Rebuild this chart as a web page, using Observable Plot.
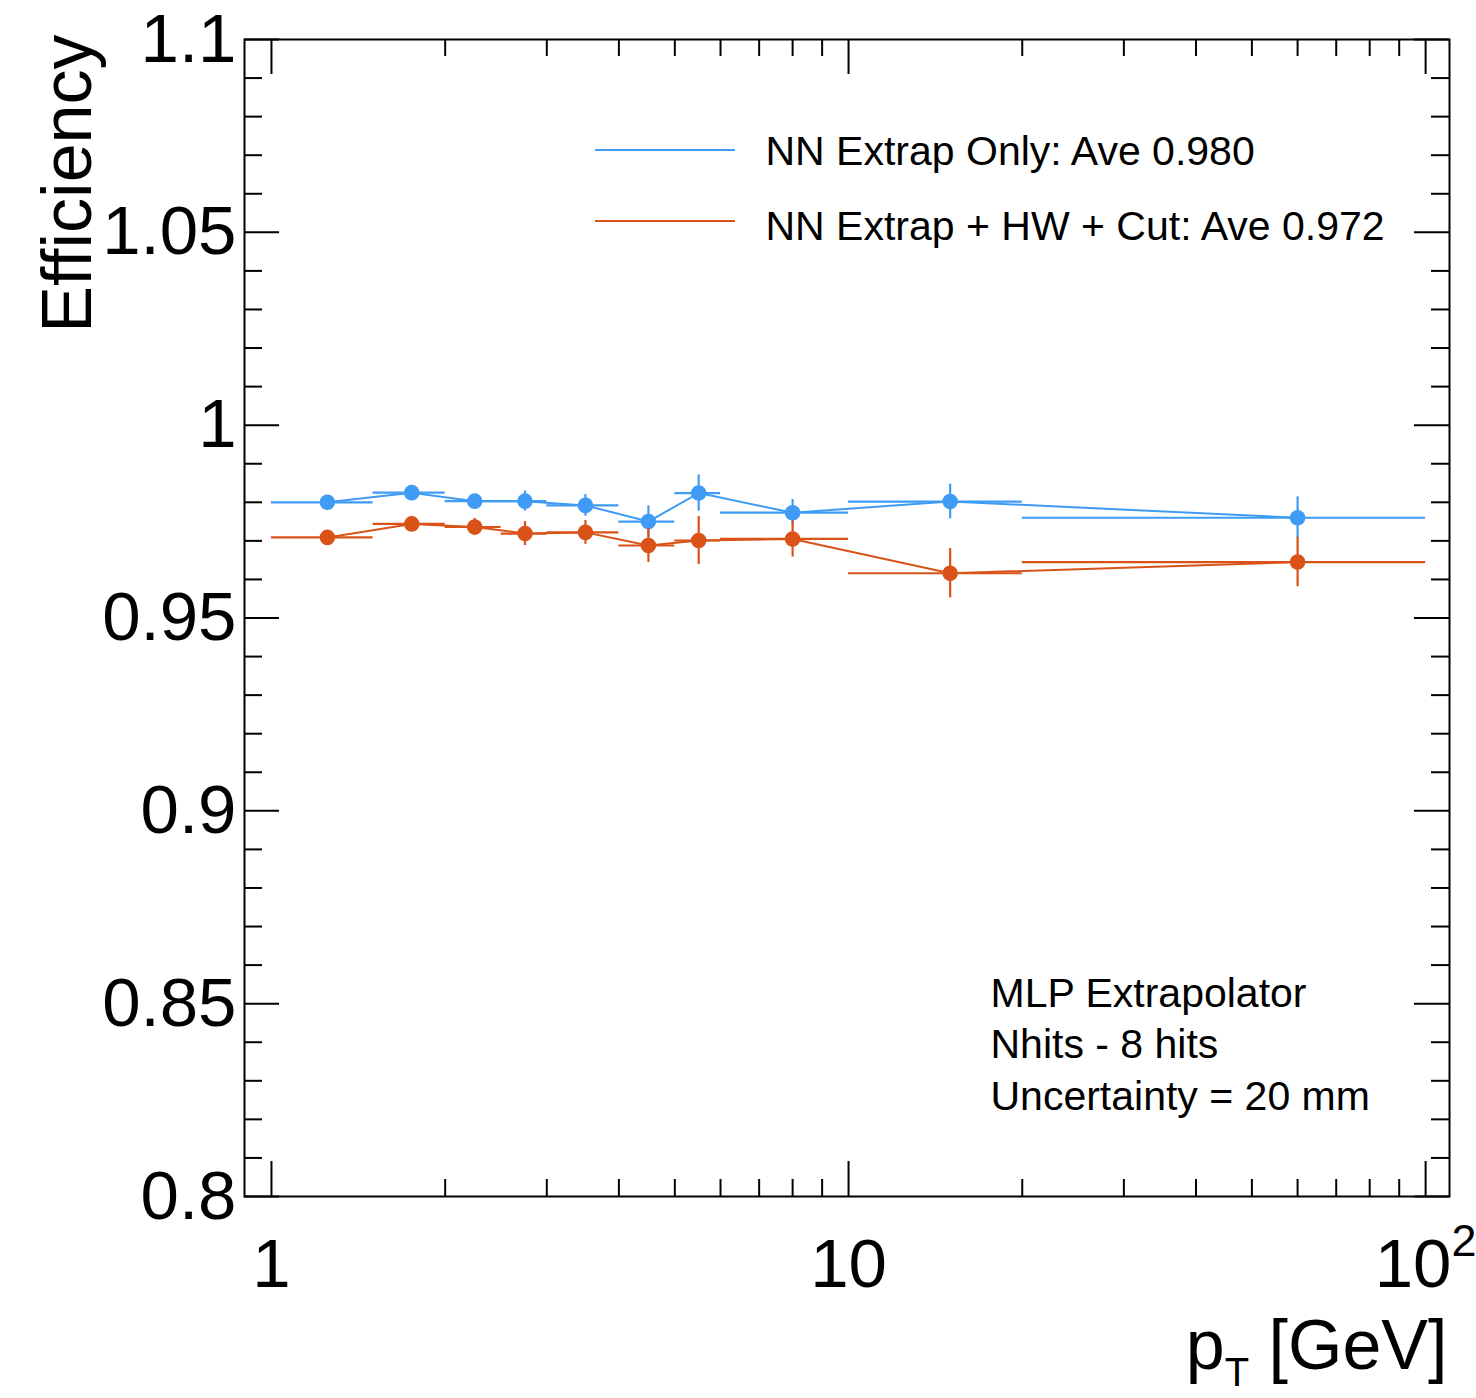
<!DOCTYPE html>
<html>
<head>
<meta charset="utf-8">
<script src="https://cdn.jsdelivr.net/npm/d3@7"></script>
<script src="https://cdn.jsdelivr.net/npm/@observablehq/plot@0.6"></script>
<style>
  html, body { margin: 0; padding: 0; background: #fff; }
  #chart { width: 1476px; height: 1398px; }
</style>
</head>
<body>
<div id="chart"></div>
<script>
// ---- data ----
const ptCenter = [1.25, 1.75, 2.25, 2.75, 3.5, 4.5, 5.5, 8, 15, 60];
const binLow   = [1, 1.5, 2, 2.5, 3, 4, 5, 6, 10, 20];
const binHigh  = [1.5, 2, 2.5, 3, 4, 5, 6, 10, 20, 100];

const effNN = [0.9800, 0.9825, 0.9803, 0.9803, 0.9792, 0.9750, 0.9824, 0.9773, 0.9802, 0.9760];
const errNN = [0.0012, 0.0012, 0.0014, 0.0026, 0.0028, 0.0041, 0.0047, 0.0034, 0.0045, 0.0054];

const effHW = [0.9709, 0.9744, 0.9736, 0.9719, 0.9722, 0.9688, 0.9701, 0.9705, 0.9616, 0.9645];
const errHW = [0.0015, 0.0015, 0.0022, 0.0031, 0.0031, 0.0044, 0.0062, 0.0047, 0.0064, 0.0064];

const seriesNames = ["NN Extrap Only: Ave 0.980", "NN Extrap + HW + Cut: Ave 0.972"];
const seriesColors = ["#3f9bf3", "#d95319"];

const xTickValues = [1, 10, 100];
const xMinorValues = [2, 3, 4, 5, 6, 7, 8, 9, 20, 30, 40, 50, 60, 70, 80, 90];
const yTickValues = [0.8, 0.85, 0.9, 0.95, 1.0, 1.05, 1.1];
const yMinorValues = [0.81, 0.82, 0.83, 0.84, 0.86, 0.87, 0.88, 0.89, 0.91, 0.92, 0.93, 0.94,
                      0.96, 0.97, 0.98, 0.99, 1.01, 1.02, 1.03, 1.04, 1.06, 1.07, 1.08, 1.09];

const annotationLines = ["MLP Extrapolator", "Nhits - 8 hits", "Uncertainty = 20 mm"];

// ---- build tables ----
function rows(eff, err) {
  return ptCenter.map((pt, i) => ({pt, lo: binLow[i], hi: binHigh[i], eff: eff[i], err: err[i]}));
}
const rowsNN = rows(effNN, errNN);
const rowsHW = rows(effHW, errHW);

// ---- layout ----
const W = 1476, H = 1398;
const mL = 244, mR = 27, mT = 39, mB = 202;
const fw = W - mL - mR, fh = H - mT - mB;
const majorLen = 35, minorLen = 17;
const font = "'Liberation Sans', Arial, Helvetica, sans-serif";

function seriesMarks(data, color) {
  return [
    Plot.ruleY(data, {y: "eff", x1: "lo", x2: "hi", stroke: color, strokeWidth: 2.2}),
    Plot.ruleX(data, {x: "pt", y1: d => d.eff - d.err, y2: d => d.eff + d.err, stroke: color, strokeWidth: 2.2}),
    Plot.line(data, {x: "pt", y: "eff", stroke: color, strokeWidth: 2}),
    Plot.dot(data, {x: "pt", y: "eff", r: 7.8, fill: color, stroke: "none"})
  ];
}

const plot = Plot.plot({
  width: W, height: H,
  marginLeft: mL, marginRight: mR, marginTop: mT, marginBottom: mB,
  style: {fontFamily: font, background: "white", color: "black"},
  x: {type: "log", domain: [0.898, 110], label: null},
  y: {domain: [0.8, 1.1], label: null},
  marks: [
    // ticks pointing inward (ROOT style)
    Plot.ruleX(xTickValues, {x: d => d, insetTop: fh - majorLen, stroke: "black", strokeWidth: 2}),
    Plot.ruleX(xMinorValues, {x: d => d, insetTop: fh - minorLen, stroke: "black", strokeWidth: 2}),
    Plot.ruleX(xTickValues, {x: d => d, insetBottom: fh - majorLen, stroke: "black", strokeWidth: 2}),
    Plot.ruleX(xMinorValues, {x: d => d, insetBottom: fh - minorLen, stroke: "black", strokeWidth: 2}),
    Plot.ruleY(yTickValues, {y: d => d, insetRight: fw - majorLen, stroke: "black", strokeWidth: 2}),
    Plot.ruleY(yMinorValues, {y: d => d, insetRight: fw - 18, stroke: "black", strokeWidth: 2}),
    Plot.ruleY(yTickValues, {y: d => d, insetLeft: fw - majorLen, stroke: "black", strokeWidth: 2}),
    Plot.ruleY(yMinorValues, {y: d => d, insetLeft: fw - 18, stroke: "black", strokeWidth: 2}),
    Plot.axisX(xTickValues, {tickSize: 0, tickPadding: 41, fontSize: 69, tickFormat: d => String(d), label: null}),
    Plot.axisY(yTickValues, {tickSize: 0, tickPadding: 8, fontSize: 69, tickFormat: d3.format("~g"), label: null}),
    ...seriesMarks(rowsNN, seriesColors[0]),
    ...seriesMarks(rowsHW, seriesColors[1]),
    Plot.frame({stroke: "black", strokeWidth: 2}),
    // axis titles
    Plot.text(["Efficiency"], {frameAnchor: "top-left", rotate: -90, textAnchor: "end", lineAnchor: "bottom",
      dx: 90 - mL, dy: 34 - mT, fontSize: 70, fill: "black"}),
    Plot.text(["pT [GeV]"], {frameAnchor: "bottom-right", textAnchor: "end", lineAnchor: "bottom",
      dx: -2, dy: 1368 - (H - mB), fontSize: 70, fill: "black"}),
    // legend texts
    Plot.text([seriesNames[0]], {frameAnchor: "top-left", textAnchor: "start", lineAnchor: "bottom",
      dx: 765 - mL, dy: 164 - mT, fontSize: 41, fill: "black"}),
    Plot.text([seriesNames[1]], {frameAnchor: "top-left", textAnchor: "start", lineAnchor: "bottom",
      dx: 765 - mL, dy: 239 - mT, fontSize: 41, fill: "black"}),
    // annotation
    Plot.text([annotationLines.join("\n")], {frameAnchor: "top-left", textAnchor: "start", lineAnchor: "bottom",
      lineHeight: 1.255, dx: 990 - mL, dy: 1109 - mT, fontSize: 41, fill: "black"})
  ]
});

document.getElementById("chart").appendChild(plot);

const svg = d3.select(plot);
// legend line samples
[[150, seriesColors[0]], [221, seriesColors[1]]].forEach(([yy, c]) => {
  svg.append("line").attr("x1", 595).attr("x2", 735).attr("y1", yy).attr("y2", yy)
    .attr("stroke", c).attr("stroke-width", 2);
});

// 10^2 superscript and p_T subscript
svg.selectAll("text").each(function () {
  const t = d3.select(this);
  const s = this.textContent;
  if (s === "100" && this.parentNode.getAttribute("aria-label") === "x-axis tick label") {
    this.textContent = "";
    t.append("tspan").text("10");
    t.append("tspan").attr("font-size", 45).attr("dy", -31).text("2");
  } else if (s === "pT [GeV]") {
    this.textContent = "";
    t.append("tspan").text("p");
    t.append("tspan").attr("font-size", 40).attr("dy", 17).text("T");
    t.append("tspan").attr("dy", -17).text(" [GeV]");
  }
});
</script>
</body>
</html>
